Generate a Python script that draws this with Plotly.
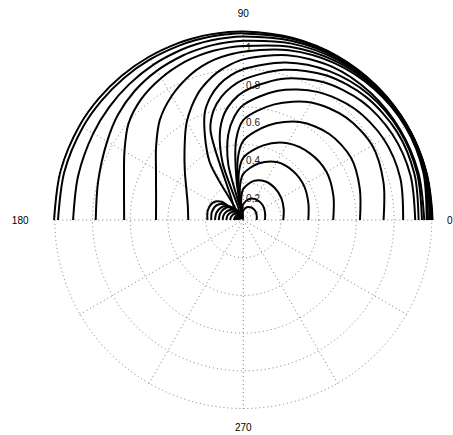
import plotly.graph_objects as go

# Polar angles (degrees) at which every curve is sampled
theta_deg = [0, 15, 30, 45, 60, 75, 90, 95, 100, 105, 110, 120, 130, 140, 150, 165, 180]

# Radius of each curve at the angles above.
# Outer family: feet on the 180 side, arching over to the 0 side
outer_1 = [1.006, 1.006, 1.005, 1.004, 1.003, 1.001, 1.000, 1.000, 1.000, 1.000, 1.000, 1.000, 1.001, 1.002, 1.003, 1.004, 1.004]
outer_2 = [1.001, 1.003, 1.004, 1.002, 0.999, 0.995, 0.990, 0.989, 0.988, 0.987, 0.986, 0.985, 0.984, 0.983, 0.983, 0.983, 0.983]
outer_3 = [0.995, 1.000, 1.002, 0.999, 0.993, 0.984, 0.973, 0.971, 0.968, 0.965, 0.961, 0.952, 0.941, 0.930, 0.919, 0.907, 0.903]
outer_4 = [0.990, 0.998, 1.000, 0.995, 0.985, 0.970, 0.951, 0.947, 0.942, 0.936, 0.930, 0.915, 0.895, 0.868, 0.834, 0.797, 0.783]
outer_5 = [0.980, 0.993, 0.997, 0.990, 0.975, 0.952, 0.923, 0.918, 0.912, 0.904, 0.895, 0.870, 0.840, 0.795, 0.728, 0.655, 0.632]
outer_6 = [0.973, 0.988, 0.992, 0.982, 0.962, 0.932, 0.893, 0.880, 0.865, 0.845, 0.820, 0.760, 0.690, 0.604, 0.535, 0.479, 0.463]
outer_7 = [0.960, 0.962, 0.960, 0.955, 0.940, 0.905, 0.852, 0.826, 0.795, 0.755, 0.710, 0.600, 0.485, 0.405, 0.350, 0.305, 0.292]
# Fan family: leave the centre up and to the left, then arch over
fan_1 = [0.948, 0.955, 0.955, 0.942, 0.912, 0.865, 0.800, 0.770, 0.730, 0.675, 0.600, 0.360, 0.060, 0.150, 0.185, 0.195, 0.190]
fan_2 = [0.930, 0.940, 0.940, 0.922, 0.885, 0.825, 0.745, 0.710, 0.665, 0.605, 0.510, 0.120, 0.080, 0.130, 0.160, 0.172, 0.170]
fan_3 = [0.912, 0.918, 0.912, 0.890, 0.845, 0.775, 0.680, 0.635, 0.575, 0.480, 0.320, 0.040, 0.085, 0.115, 0.135, 0.148, 0.150]
fan_4 = [0.848, 0.862, 0.860, 0.835, 0.785, 0.710, 0.610, 0.550, 0.460, 0.310, 0.030, 0.055, 0.085, 0.105, 0.118, 0.128, 0.130]
# Loop family: rise straight out of the centre and come down on the 0 side
loop_1 = [0.744, 0.770, 0.790, 0.770, 0.720, 0.635, 0.530, 0.430, 0.200, 0.030, 0.030, 0.050, 0.070, 0.085, 0.097, 0.107, 0.110]
loop_2 = [0.619, 0.640, 0.660, 0.645, 0.600, 0.520, 0.420, 0.330, 0.150, 0.025, 0.025, 0.040, 0.055, 0.068, 0.078, 0.087, 0.090]
loop_3 = [0.477, 0.495, 0.510, 0.500, 0.470, 0.410, 0.330, 0.260, 0.120, 0.020, 0.020, 0.030, 0.042, 0.052, 0.060, 0.067, 0.070]
loop_4 = [0.345, 0.357, 0.370, 0.370, 0.355, 0.310, 0.245, 0.190, 0.090, 0.015, 0.015, 0.022, 0.030, 0.037, 0.043, 0.048, 0.050]
loop_5 = [0.212, 0.222, 0.233, 0.238, 0.236, 0.215, 0.165, 0.120, 0.060, 0.012, 0.012, 0.018, 0.024, 0.030, 0.034, 0.038, 0.040]
loop_6 = [0.115, 0.120, 0.127, 0.130, 0.128, 0.115, 0.085, 0.060, 0.030, 0.010, 0.010, 0.014, 0.018, 0.022, 0.026, 0.029, 0.030]
loop_7 = [0.071, 0.074, 0.078, 0.080, 0.078, 0.070, 0.050, 0.036, 0.020, 0.008, 0.008, 0.010, 0.012, 0.015, 0.017, 0.019, 0.020]

curves = [outer_1, outer_2, outer_3, outer_4, outer_5, outer_6, outer_7,
          fan_1, fan_2, fan_3, fan_4,
          loop_1, loop_2, loop_3, loop_4, loop_5, loop_6, loop_7]

# Ring values and the spoke angles
ring_values = [0.2, 0.4, 0.6, 0.8, 1.0]
ring_labels = ["\u00a00.2", "\u00a00.4", "\u00a00.6", "\u00a00.8", "\u00a01"]
spoke_angles = [0, 30, 60, 90, 120, 150, 180, 210, 240, 270, 300, 330]
spoke_labels = ["\u00a00", "", "", "90", "", "", "180\u00a0\u00a0\u00a0\u00a0\u00a0", "", "", "270", "", ""]

W, H = 453, 435
cx, cy, R1 = 243.3, 220.0, 188.5      # centre and radius of the r = 1 ring, px
r_max = 1.01
Rp = R1 * r_max
label_drop = 17.0 / R1                 # ring labels hang just under their ring

font = "Liberation Sans, Arial, Helvetica, sans-serif"
fig = go.Figure()

# ring labels along the 90 degree spoke (drawn first so the curves sit on top)
fig.add_trace(go.Scatterpolar(
    r=[v - label_drop for v in ring_values], theta=[90] * len(ring_values),
    text=ring_labels, mode="text", textposition="middle right",
    textfont=dict(family=font, size=10, color="#222222"),
    showlegend=False, hoverinfo="skip"))

for c in curves:
    fig.add_trace(go.Scatterpolar(
        r=c, theta=theta_deg, mode="lines",
        line=dict(color="black", width=2, shape="spline", smoothing=0.9),
        showlegend=False))

grid = "#7a7a7a"
fig.update_layout(
    width=W, height=H,
    margin=dict(l=0, r=0, t=0, b=0),
    paper_bgcolor="white",
    showlegend=False,
    polar=dict(
        domain=dict(x=[(cx - Rp) / W, (cx + Rp) / W],
                    y=[(H - cy - Rp) / H, (H - cy + Rp) / H]),
        bgcolor="white",
        radialaxis=dict(range=[0, r_max], tickmode="array", tickvals=ring_values,
                        showticklabels=False, ticks="", showline=False,
                        gridcolor=grid, griddash="1px,3px", gridwidth=1),
        angularaxis=dict(rotation=0, direction="counterclockwise",
                         tickmode="array", tickvals=spoke_angles, ticktext=spoke_labels,
                         showline=False, gridcolor=grid, griddash="1px,3px", gridwidth=1,
                         ticks="outside", ticklen=8, tickcolor="rgba(0,0,0,0)",
                         tickfont=dict(family=font, size=10, color="black")),
    ),
)

fig.write_html("out.html")
